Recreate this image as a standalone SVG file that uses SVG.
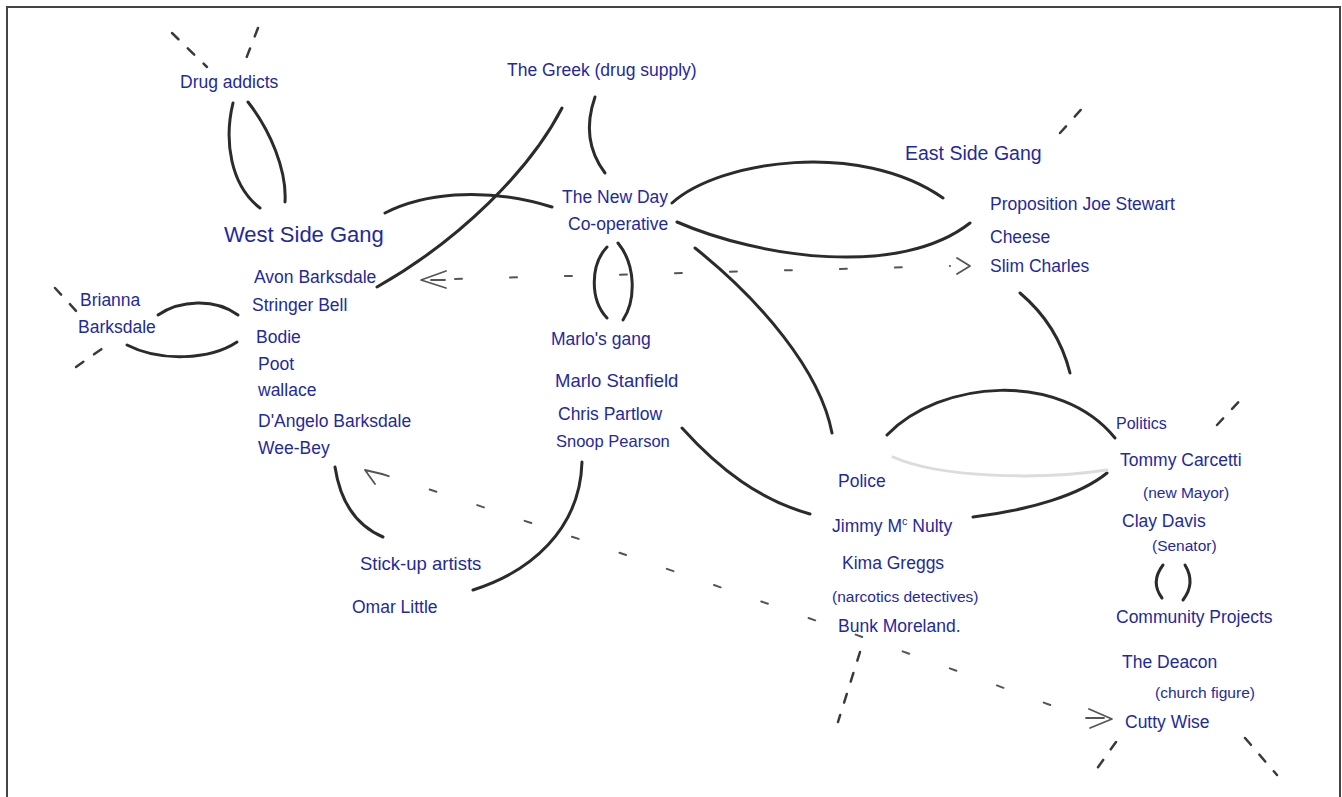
<svg xmlns="http://www.w3.org/2000/svg" width="1342" height="797" viewBox="0 0 1342 797">
<style>
.t{font-family:"Liberation Sans",Arial,sans-serif;font-size:17.5px;fill:#1f2a9e}
.s{font-size:15.5px}
.c{fill:none;stroke:#2b2b2b;stroke-width:3;stroke-linecap:round}
.d{fill:none;stroke:#3a3a3a;stroke-width:2.5;stroke-linecap:round;stroke-dasharray:9 13}
.dl{fill:none;stroke:#555;stroke-width:2;stroke-linecap:round;stroke-dasharray:7 48}
.a{fill:none;stroke:#555;stroke-width:1.8;stroke-linecap:round;stroke-linejoin:round}
</style>
<rect width="1342" height="797" fill="#fff"/>
<path d="M7,797 V7 H1340 V797" fill="none" stroke="#444" stroke-width="2"/>

<g id="connectors">
<path class="c" d="M233,103 C224,140 230,185 260,208"/>
<path class="c" d="M248,102 C270,130 287,170 285,202"/>
<path class="c" d="M385,213 C420,195 480,185 552,207"/>
<path class="c" d="M562,108 C530,170 460,240 377,287"/>
<path class="c" d="M595,97 Q580,140 605,173"/>
<path class="c" d="M607,247 C590,265 590,300 607,318"/>
<path class="c" d="M618,243 C636,265 636,300 623,320"/>
<path class="c" d="M672,203 C720,160 860,140 943,198"/>
<path class="c" d="M677,222 C760,258 900,278 970,223"/>
<path class="c" d="M695,248 C760,300 820,370 832,433"/>
<path class="c" d="M682,428 C720,470 760,500 810,514"/>
<path class="c" d="M973,517 C1030,510 1080,495 1107,473"/>
<path fill="none" stroke="#dcdcdc" stroke-width="3" stroke-linecap="round" d="M893,457 C940,478 1040,480 1107,470"/>
<path class="c" d="M887,435 C940,380 1060,370 1115,438"/>
<path class="c" d="M1020,293 Q1058,325 1070,373"/>
<path class="c" d="M1163,565 Q1150,582 1162,598"/>
<path class="c" d="M1185,565 Q1196,583 1183,600"/>
<path class="c" d="M158,315 C180,300 215,298 238,315"/>
<path class="c" d="M127,345 C160,362 210,360 237,342"/>
<path class="c" d="M335,467 C340,500 355,525 383,537"/>
<path class="c" d="M582,462 C580,530 530,572 473,590"/>

<path class="d" d="M172,33 L207,67"/>
<path class="d" d="M258,28 L244,64"/>
<path class="d" d="M55,288 L78,313"/>
<path class="d" d="M76,367 L103,348"/>
<path class="d" d="M1060,133 L1087,103"/>
<path class="d" d="M1217,425 L1247,393"/>
<path class="d" d="M860,652 L838,722"/>
<path class="d" d="M1116,742 L1096,770"/>
<path class="d" d="M1245,738 L1277,775"/>

<path class="dl" d="M455,279 L950,266"/>
<path class="a" d="M446,271 L421,280 L446,288 M431,280 L445,280"/>
<path class="a" d="M957,258 L970,266 L957,274"/>
<path class="dl" d="M382,474 Q740,590 1080,716" style="stroke-dasharray:7 43"/>
<path class="a" d="M382,474 L365,470 L375,484"/>
<path class="a" d="M1089,709 L1112,719 L1090,728 M1086,718 L1104,718"/>
</g>

<g id="drug-addicts"><text class="t" x="180" y="88">Drug addicts</text></g>
<g id="the-greek"><text class="t" x="507" y="76">The Greek (drug supply)</text></g>
<g id="west-side-gang">
<text class="t" x="224" y="242" style="font-size:22px">West Side Gang</text>
<text class="t" x="254" y="283">Avon Barksdale</text>
<text class="t" x="252" y="311">Stringer Bell</text>
<text class="t" x="256" y="343">Bodie</text>
<text class="t" x="258" y="370">Poot</text>
<text class="t" x="258" y="396">wallace</text>
<text class="t" x="258" y="427">D'Angelo Barksdale</text>
<text class="t" x="258" y="454">Wee-Bey</text>
</g>
<g id="brianna">
<text class="t" x="80" y="306">Brianna</text>
<text class="t" x="78" y="333">Barksdale</text>
</g>
<g id="new-day">
<text class="t" x="562" y="203">The New Day</text>
<text class="t" x="568" y="230">Co-operative</text>
</g>
<g id="east-side-gang">
<text class="t" x="905" y="160" style="font-size:19.5px">East Side Gang</text>
<text class="t" x="990" y="210">Proposition Joe Stewart</text>
<text class="t" x="990" y="243">Cheese</text>
<text class="t" x="990" y="272">Slim Charles</text>
</g>
<g id="marlos-gang">
<text class="t" x="551" y="345">Marlo's gang</text>
<text class="t" x="555" y="387" style="font-size:18.5px">Marlo Stanfield</text>
<text class="t" x="558" y="420">Chris Partlow</text>
<text class="t" x="556" y="447" style="font-size:16.5px">Snoop Pearson</text>
</g>
<g id="stick-up-artists">
<text class="t" x="360" y="570" style="font-size:18.5px">Stick-up artists</text>
<text class="t" x="352" y="613">Omar Little</text>
</g>
<g id="police">
<text class="t" x="838" y="487">Police</text>
<text class="t" x="832" y="532">Jimmy M<tspan dy="-7" style="font-size:11px">c</tspan><tspan dy="7"> Nulty</tspan></text>
<text class="t" x="842" y="569">Kima Greggs</text>
<text class="t s" x="832" y="602">(narcotics detectives)</text>
<text class="t" x="838" y="632">Bunk Moreland.</text>
</g>
<g id="politics">
<text class="t" x="1116" y="429" style="font-size:16px">Politics</text>
<text class="t" x="1120" y="466">Tommy Carcetti</text>
<text class="t s" x="1143" y="498">(new Mayor)</text>
<text class="t" x="1122" y="527">Clay Davis</text>
<text class="t s" x="1152" y="551">(Senator)</text>
</g>
<g id="community-projects">
<text class="t" x="1116" y="623">Community Projects</text>
<text class="t" x="1122" y="668">The Deacon</text>
<text class="t s" x="1155" y="698">(church figure)</text>
<text class="t" x="1125" y="728">Cutty Wise</text>
</g>
</svg>
